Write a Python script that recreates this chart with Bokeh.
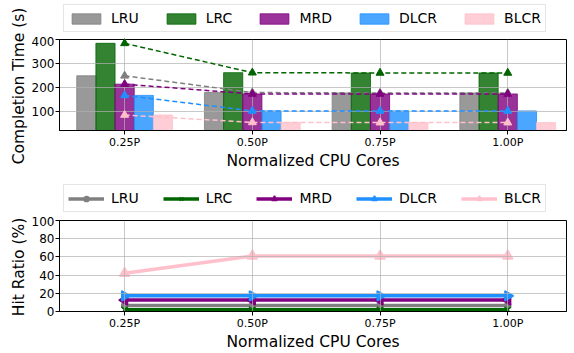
import numpy as np
from bokeh.plotting import figure
from bokeh.layouts import column, row
from bokeh.models import (Range1d, FixedTicker, Legend, LegendItem, ColumnDataSource)
from bokeh.core.properties import value
from bokeh.embed import file_html
from bokeh.resources import INLINE

categories = ["0.25P", "0.50P", "0.75P", "1.00P"]
series = ["LRU", "LRC", "MRD", "DLCR", "BLCR"]
colors = ["gray", "darkgreen", "purple", "dodgerblue", "pink"]

# Completion time (s)
time_LRU = [248, 178, 176, 176]
time_LRC = [384, 261, 260, 260]
time_MRD = [213, 172, 172, 172]
time_DLCR = [166, 101, 101, 101]
time_BLCR = [84, 53, 52, 52]

# Hit ratio (%)
hit_LRU = [6.5, 6.5, 6.5, 6.5]
hit_LRC = [1.8, 1.8, 1.8, 1.8]
hit_MRD = [12.6, 12.6, 12.6, 12.6]
hit_DLCR = [17.2, 17.2, 17.2, 17.2]
hit_BLCR = [42, 61, 61, 61]

times = [time_LRU, time_LRC, time_MRD, time_DLCR, time_BLCR]
hits = [hit_LRU, hit_LRC, hit_MRD, hit_DLCR, hit_BLCR]

FONT = "DejaVu Sans"
xs = list(range(len(categories)))
bar_w = 0.15
offsets = [-0.3, -0.15, 0.0, 0.15, 0.3]
markers = ["circle", "x", "triangle", "triangle", "triangle"]
angles = [0, 0, np.pi / 2, -np.pi / 2, 0]
msizes = [6, 9, 10, 10, 10]

LABEL_W = 28          # width of the column that holds the y-axis titles
MAIN_W = 574 - LABEL_W


def style(p, yticks):
    p.outline_line_color = "black"
    p.outline_line_width = 1
    p.xaxis.ticker = FixedTicker(ticks=xs)
    p.xaxis.major_label_overrides = {i: c for i, c in enumerate(categories)}
    p.yaxis.ticker = FixedTicker(ticks=yticks)
    p.xaxis.axis_label = "Normalized CPU Cores"
    for ax in (p.xaxis[0], p.yaxis[0]):
        ax.axis_label_text_font = FONT
        ax.axis_label_text_font_size = "15.5px"
        ax.axis_label_text_font_style = "normal"
        ax.axis_label_text_color = "black"
        ax.major_label_text_font = FONT
        ax.major_label_text_color = "black"
        ax.axis_line_color = "black"
        ax.major_tick_line_color = "black"
        ax.major_tick_out = 4
        ax.major_tick_in = 0
        ax.minor_tick_line_color = None
        ax.major_label_standoff = 1
        ax.axis_label_standoff = 0
    p.xaxis.major_label_text_font_size = "11px"
    p.yaxis.major_label_text_font_size = "12px"
    p.xgrid.ticker = FixedTicker(ticks=xs)
    p.ygrid.ticker = FixedTicker(ticks=yticks)
    for g in (p.xgrid[0], p.ygrid[0]):
        g.grid_line_color = "#b0b0b0"
        g.grid_line_alpha = 0.7
        g.grid_line_width = 1
        g.level = "glyph"


def legend_fig(height, y_off, kind):
    f = figure(width=MAIN_W, height=height, output_backend="svg", toolbar_location=None,
               x_range=Range1d(0, 1), y_range=Range1d(0, 1),
               x_axis_location=None, y_axis_location=None,
               min_border_left=0, min_border_right=0, min_border_top=0, min_border_bottom=0)
    f.outline_line_color = None
    f.grid.visible = False
    items = []
    for s, col, mk, ang, ms in zip(series, colors, markers, angles, msizes):
        # one off-screen point so the legend can resolve its visuals
        hidden = ColumnDataSource(dict(x=[-10], y=[-10]))
        if kind == "bar":
            r = f.vbar(x="x", top="y", width=0.1, source=hidden, fill_color=col,
                       fill_alpha=0.8, line_color=col, line_width=0.8)
            items.append(LegendItem(label=s, renderers=[r]))
        else:
            rl = f.line("x", "y", source=hidden, line_color=col, line_width=3.5)
            rs = f.scatter("x", "y", source=hidden, marker=mk, size=ms, angle=ang,
                           fill_color=col, line_color=col, line_width=1.5)
            items.append(LegendItem(label=s, renderers=[rl, rs]))
    lg = Legend(items=items, orientation="horizontal", location=(4, y_off))
    lg.label_text_font = FONT
    lg.label_text_font_size = "14px"
    lg.label_text_color = "black"
    lg.glyph_width = 36
    lg.glyph_height = 13
    lg.label_height = 18
    lg.label_standoff = 7
    lg.spacing = 24
    lg.padding = 4
    lg.margin = 0
    lg.border_line_color = "#cccccc"
    lg.border_line_width = 1
    lg.background_fill_color = "white"
    lg.background_fill_alpha = 1
    f.add_layout(lg, "center")
    return f


# ---------------- Top: completion time ----------------
leg1 = legend_fig(36, 4, "bar")

p1 = figure(width=MAIN_W, height=136, output_backend="svg", toolbar_location=None,
            x_range=Range1d(-0.51, 3.46), y_range=Range1d(19, 400),
            min_border_left=30, min_border_right=8, min_border_top=3, min_border_bottom=40)
style(p1, [100, 200, 300, 400])

for s, vals, col, off in zip(series, times, colors, offsets):
    src = ColumnDataSource(dict(x=[x + off for x in xs], top=vals))
    p1.vbar(x="x", top="top", bottom=0, width=bar_w, source=src,
            fill_color=col, fill_alpha=0.8, line_color=col, line_width=0.8,
            level="underlay")

for vals, col in zip(times, colors):
    src = ColumnDataSource(dict(x=xs, y=vals))
    p1.line("x", "y", source=src, line_color=col, line_width=1.5,
            line_dash="5 3", level="annotation")
    p1.scatter("x", "y", source=src, marker="triangle", size=8,
               fill_color=col, line_color=col, level="annotation")

# ---------------- Bottom: hit ratio ----------------
leg2 = legend_fig(44, 4, "line")

p2 = figure(width=MAIN_W, height=137, output_backend="svg", toolbar_location=None,
            x_range=Range1d(-0.51, 3.46), y_range=Range1d(0, 100),
            min_border_left=30, min_border_right=8, min_border_top=4, min_border_bottom=40)
style(p2, [0, 20, 40, 60, 80, 100])

for s, vals, col, mk, ang, ms in zip(series, hits, colors, markers, angles, msizes):
    src = ColumnDataSource(dict(x=xs, y=vals))
    p2.line("x", "y", source=src, line_color=col, line_width=3.5)
    p2.scatter("x", "y", source=src, marker=mk, size=ms, angle=ang,
               fill_color=col, line_color=col, line_width=1.5)

# ---------------- y-axis titles column ----------------
ytitles = ["Completion Time (s)", "Hit Ratio (%)"]
ytitle_x = [18, 18]
ytitle_y = [36 + 3 + 46.5, 36 + 136 + 44 + 4 + 46.5]
lab = figure(width=LABEL_W, height=353, output_backend="svg", toolbar_location=None,
             x_range=Range1d(0, LABEL_W), y_range=Range1d(353, 0),
             x_axis_location=None, y_axis_location=None,
             min_border_left=0, min_border_right=0, min_border_top=0, min_border_bottom=0)
lab.outline_line_color = None
lab.grid.visible = False
lab.text(x=ytitle_x, y=ytitle_y, text=ytitles, angle=np.pi / 2,
         text_font=value(FONT), text_font_size="15.5px", text_color="black",
         text_align="center", text_baseline="middle")

layout = row(lab, column(leg1, p1, leg2, p2, spacing=0), spacing=0)
open("out.html", "w").write(file_html(layout, INLINE))
